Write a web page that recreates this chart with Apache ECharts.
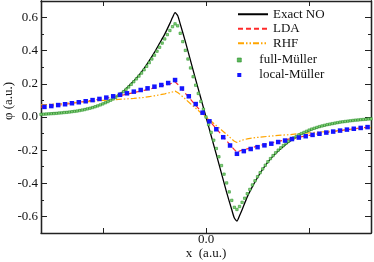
<!DOCTYPE html>
<html><head><meta charset="utf-8">
<script src="https://cdn.jsdelivr.net/npm/echarts@6/dist/echarts.min.js"></script>
<style>html,body{margin:0;padding:0;background:#fff}#c{width:374px;height:262px}</style>
</head><body><div id="c"></div>
<script>
const seriesNames = ['Exact NO','LDA','RHF','full-Müller','local-Müller'];
const xLine = [-1.6,-1.5,-1.4,-1.3,-1.2,-1.1,-1.0,-0.9,-0.8,-0.7,-0.65,-0.6,-0.55,-0.5,-0.45,-0.4,-0.35,-0.325,-0.3,-0.275,-0.25,-0.2,-0.15,-0.1,-0.05,0,0.05,0.1,0.15,0.2,0.25,0.275,0.3,0.325,0.35,0.4,0.45,0.5,0.55,0.6,0.65,0.7,0.8,0.9,1.0,1.1,1.2,1.3,1.4,1.5,1.6];
const exactNO = [0.017,0.021,0.026,0.033,0.043,0.058,0.08,0.11,0.155,0.218,0.252,0.293,0.34,0.39,0.445,0.5,0.565,0.6,0.63,0.612,0.562,0.455,0.34,0.226,0.113,0,-0.113,-0.226,-0.34,-0.455,-0.56,-0.61,-0.628,-0.596,-0.56,-0.482,-0.42,-0.365,-0.315,-0.272,-0.236,-0.205,-0.152,-0.112,-0.082,-0.06,-0.044,-0.032,-0.023,-0.016,-0.011];
const lda = [0.06,0.066,0.074,0.083,0.092,0.101,0.111,0.122,0.134,0.147,0.154,0.161,0.168,0.176,0.184,0.192,0.2,0.205,0.212,0.198,0.18,0.143,0.107,0.071,0.035,0,-0.035,-0.071,-0.107,-0.143,-0.18,-0.197,-0.212,-0.205,-0.2,-0.192,-0.184,-0.175,-0.168,-0.161,-0.154,-0.147,-0.134,-0.122,-0.111,-0.1,-0.091,-0.082,-0.074,-0.066,-0.059];
const rhf = [0.073,0.077,0.081,0.086,0.09,0.095,0.1,0.104,0.108,0.112,0.115,0.118,0.123,0.128,0.134,0.14,0.147,0.151,0.156,0.148,0.136,0.108,0.08,0.053,0.026,0,-0.026,-0.052,-0.078,-0.105,-0.133,-0.146,-0.154,-0.146,-0.14,-0.132,-0.127,-0.123,-0.12,-0.117,-0.114,-0.111,-0.107,-0.101,-0.096,-0.091,-0.086,-0.081,-0.076,-0.07,-0.065];
const xFull = [-1.6,-1.575,-1.55,-1.525,-1.5,-1.475,-1.45,-1.425,-1.4,-1.375,-1.35,-1.325,-1.3,-1.275,-1.25,-1.225,-1.2,-1.175,-1.15,-1.125,-1.1,-1.075,-1.05,-1.025,-1.0,-0.975,-0.95,-0.925,-0.9,-0.875,-0.85,-0.825,-0.8,-0.775,-0.75,-0.725,-0.7,-0.675,-0.65,-0.625,-0.6,-0.575,-0.55,-0.525,-0.5,-0.475,-0.45,-0.425,-0.4,-0.375,-0.35,-0.325,-0.3,-0.275,-0.25,-0.225,-0.2,-0.175,-0.15,-0.125,-0.1,-0.075,-0.05,-0.025,0,
0.025,0.05,0.075,0.1,0.125,0.15,0.175,0.2,0.225,0.25,0.275,0.3,0.325,0.35,0.375,0.4,0.425,0.45,0.475,0.5,0.525,0.55,0.575,0.6,0.625,0.65,0.675,0.7,0.725,0.75,0.775,0.8,0.825,0.85,0.875,0.9,0.925,0.95,0.975,1.0,1.025,1.05,1.075,1.1,1.125,1.15,1.175,1.2,1.225,1.25,1.275,1.3,1.325,1.35,1.375,1.4,1.425,1.45,1.475,1.5,1.525,1.55,1.575,1.6];
const fullMuller = [0.016,0.017,0.018,0.019,0.02,0.021,0.022,0.024,0.025,0.027,0.028,0.03,0.032,0.034,0.036,0.039,0.042,0.045,0.049,0.053,0.057,0.062,0.067,0.073,0.079,0.086,0.093,0.101,0.109,0.119,0.129,0.141,0.153,0.167,0.181,0.197,0.213,0.23,0.247,0.265,0.285,0.306,0.328,0.35,0.373,0.397,0.421,0.446,0.471,0.497,0.522,0.545,0.562,0.55,0.505,0.455,0.402,0.35,0.296,0.243,0.192,0.142,0.094,0.047,0,
-0.046,-0.093,-0.14,-0.19,-0.24,-0.293,-0.345,-0.398,-0.452,-0.503,-0.545,-0.558,-0.54,-0.515,-0.49,-0.463,-0.437,-0.41,-0.385,-0.36,-0.336,-0.313,-0.291,-0.27,-0.251,-0.233,-0.216,-0.2,-0.186,-0.172,-0.159,-0.147,-0.136,-0.126,-0.117,-0.108,-0.1,-0.093,-0.086,-0.079,-0.073,-0.068,-0.063,-0.058,-0.054,-0.05,-0.046,-0.043,-0.04,-0.037,-0.034,-0.031,-0.029,-0.027,-0.025,-0.023,-0.021,-0.019,-0.018,-0.016,-0.015,-0.014,-0.012,-0.011];
const xLocal = [-1.5667,-1.5,-1.4333,-1.3667,-1.3,-1.2333,-1.1667,-1.1,-1.0333,-0.9667,-0.9,-0.8333,-0.7667,-0.7,-0.6333,-0.5667,-0.5,-0.4333,-0.3667,-0.3,-0.2333,-0.1667,-0.1,-0.0333,
0.0333,0.1,0.1667,0.2333,0.3,0.3667,0.4333,0.5,0.5667,0.6333,0.7,0.7667,0.8333,0.9,0.9667,1.0333,1.1,1.1667,1.2333,1.3,1.3667,1.4333,1.5,1.5667];
const localMuller = [0.061,0.066,0.072,0.077,0.083,0.089,0.095,0.102,0.109,0.117,0.125,0.134,0.143,0.153,0.163,0.173,0.183,0.193,0.205,0.223,0.172,0.125,0.078,0.026,
-0.026,-0.074,-0.122,-0.172,-0.222,-0.206,-0.193,-0.182,-0.171,-0.161,-0.151,-0.142,-0.133,-0.124,-0.116,-0.108,-0.101,-0.094,-0.088,-0.082,-0.076,-0.071,-0.066,-0.061];
const xTicks = [-1, 0, 1];
const xTickLabels = [0];
const yMajorTicks = [-0.6,-0.4,-0.2,0,0.2,0.4,0.6];
const yMinorTicks = [-0.7,-0.5,-0.3,-0.1,0.1,0.3,0.5,0.7];

const zip = (xs, ys) => xs.map((x, i) => [x, ys[i]]);
const FONT = '"Liberation Serif","Times New Roman",serif';
const AXC = '#222';
const SQUARE = 'path://M0,0L10,0L10,10L0,10Z';

const chart = echarts.init(document.getElementById('c'), null, {renderer: 'canvas'});
const baseX = {type: 'value', min: -1.6, max: 1.6, splitLine: {show: false},
  axisLine: {show: true, onZero: false, lineStyle: {color: AXC, width: 1.3}}};
const baseY = {type: 'value', min: -0.7, max: 0.7, splitLine: {show: false},
  axisLine: {show: true, onZero: false, lineStyle: {color: AXC, width: 1.3}}};
chart.setOption({
  animation: false,
  grid: {left: 41, right: 3, top: 1, bottom: 29, containLabel: false, outerBoundsMode: 'none'},
  legend: [
    {data: seriesNames.slice(0, 3), orient: 'vertical', left: 237, top: 7, padding: 0,
     itemWidth: 30, itemHeight: 14, itemGap: 0, selectedMode: false,
     itemStyle: {opacity: 0},
     textStyle: {fontFamily: FONT, fontSize: 13, color: '#111', lineHeight: 14.5}},
    {data: [
       {name: seriesNames[3], icon: SQUARE, itemStyle: {color: '#5cb85c', borderColor: '#2a8f2a', borderWidth: 0.6}},
       {name: seriesNames[4], icon: SQUARE, itemStyle: {color: '#1414ff', borderWidth: 0}}],
     orient: 'vertical', left: 237, top: 52.5, padding: 0,
     itemWidth: 30, itemHeight: 4, itemGap: 0, selectedMode: false, symbolKeepAspect: true,
     textStyle: {fontFamily: FONT, fontSize: 13, color: '#111', lineHeight: 15}}
  ],
  xAxis: [
    Object.assign({}, baseX, {position: 'bottom',
      name: 'x  (a.u.)', nameLocation: 'middle', nameGap: 14.5, nameMoveOverlap: false,
      nameTextStyle: {fontFamily: FONT, fontSize: 13, color: '#111'},
      axisTick: {show: true, inside: true, length: 5, customValues: xTicks, lineStyle: {color: AXC, width: 1}},
      axisLabel: {show: true, customValues: xTickLabels, margin: 0, fontFamily: FONT, fontSize: 13, color: '#111',
        formatter: v => Number(v).toFixed(1)}}),
    Object.assign({}, baseX, {position: 'top',
      axisTick: {show: true, inside: true, length: 5, customValues: xTicks, lineStyle: {color: AXC, width: 1}},
      axisLabel: {show: false}})
  ],
  yAxis: [
    Object.assign({}, baseY, {position: 'left',
      name: 'φ (a.u.)', nameLocation: 'middle', nameGap: 26, nameRotate: 90, nameMoveOverlap: false,
      nameTextStyle: {fontFamily: FONT, fontSize: 13, color: '#111', padding: [0, 0, 0, 32]},
      axisTick: {show: true, inside: true, length: 6, customValues: yMajorTicks, lineStyle: {color: AXC, width: 1}},
      axisLabel: {show: true, customValues: yMajorTicks, margin: 3, fontFamily: FONT, fontSize: 13, color: '#111',
        formatter: v => Number(v).toFixed(1)}}),
    Object.assign({}, baseY, {position: 'left',
      axisTick: {show: true, inside: true, length: 3, customValues: yMinorTicks, lineStyle: {color: AXC, width: 1}},
      axisLabel: {show: false}}),
    Object.assign({}, baseY, {position: 'right',
      axisTick: {show: true, inside: true, length: 6, customValues: yMajorTicks, lineStyle: {color: AXC, width: 1}},
      axisLabel: {show: false}}),
    Object.assign({}, baseY, {position: 'right',
      axisTick: {show: true, inside: true, length: 3, customValues: yMinorTicks, lineStyle: {color: AXC, width: 1}},
      axisLabel: {show: false}})
  ],
  series: [
    {name: seriesNames[0], type: 'line', symbol: 'none', data: zip(xLine, exactNO), smooth: 0.2,
     lineStyle: {color: '#000', width: 1.3}, itemStyle: {color: '#000'}, z: 2},
    {name: seriesNames[1], type: 'line', symbol: 'none', data: zip(xLine, lda),
     lineStyle: {color: '#ff2a2a', width: 1.2, type: [5, 3]}, itemStyle: {color: '#ff2a2a'}, z: 3},
    {name: seriesNames[2], type: 'line', symbol: 'none', data: zip(xLine, rhf),
     lineStyle: {color: '#ffa500', width: 1.2, type: [6, 2, 1.5, 2, 1.5, 2]}, itemStyle: {color: '#ffa500'}, z: 3},
    {name: seriesNames[3], type: 'scatter', symbol: 'rect', symbolSize: 2.4, data: zip(xFull, fullMuller),
     itemStyle: {color: '#86d27a', borderColor: '#2f962f', borderWidth: 0.6, opacity: 1}, z: 4},
    {name: seriesNames[4], type: 'scatter', symbol: 'rect', symbolSize: 4.5, data: zip(xLocal, localMuller),
     itemStyle: {color: '#1414ff', opacity: 1}, z: 5}
  ]
});
</script></body></html>
